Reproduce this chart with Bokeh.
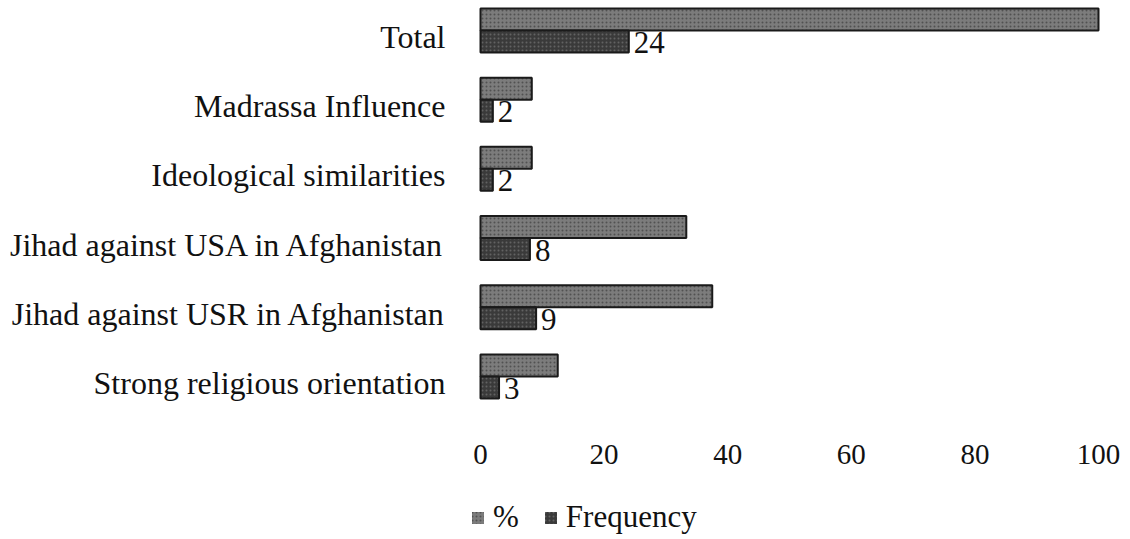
from bokeh.plotting import figure
from bokeh.layouts import column
from bokeh.models import Range1d, FixedTicker, ColumnDataSource, Legend, LegendItem
from bokeh.core.properties import value
from bokeh.embed import file_html
from bokeh.resources import INLINE

# Data (bottom to top)
categories = ["Strong religious orientation",
              "Jihad against USR in Afghanistan",
              "Jihad against USA in Afghanistan",
              "Ideological similarities",
              "Madrassa Influence",
              "Total"]
frequency = [3, 9, 8, 2, 2, 24]
percent = [12.5, 37.5, 33.3, 8.3, 8.3, 100]
x_ticks = [0, 20, 40, 60, 80, 100]

FONT = "Liberation Serif"
PCT_FILL = "#7c7c7c"
PCT_HATCH = "#333333"
FRQ_FILL = "#3a3a3a"
FRQ_HATCH = "#8a8a8a"
EDGE = "#1a1a1a"
idx = list(range(len(categories)))

src = ColumnDataSource(dict(
    idx=idx,
    pct_y=[i + 0.253 for i in idx],
    frq_y=[i - 0.065 for i in idx],
    pct=percent,
    frq=frequency,
    frq_lbl=[str(v) for v in frequency],
))

pct_fill = dict(fill_color=PCT_FILL, hatch_pattern="dot", hatch_color=PCT_HATCH,
                hatch_scale=4, hatch_weight=1, hatch_alpha=0.6)
frq_fill = dict(fill_color=FRQ_FILL, hatch_pattern="dot", hatch_color=FRQ_HATCH,
                hatch_scale=4, hatch_weight=1, hatch_alpha=0.5)

p = figure(width=1130, height=490, output_backend="svg", toolbar_location=None,
           x_range=Range1d(-1.618, 101.94), y_range=Range1d(-0.658, 5.527),
           min_border_left=470, min_border_right=20, min_border_top=0,
           min_border_bottom=62)

p.hbar(y="pct_y", height=0.318, left=0, right="pct", source=src,
       line_color=EDGE, line_width=2, **pct_fill)
p.hbar(y="frq_y", height=0.318, left=0, right="frq", source=src,
       line_color=EDGE, line_width=2, **frq_fill)

p.text(x="frq", y="frq_y", text="frq_lbl", source=src, x_offset=5, y_offset=1,
       text_align="left", text_baseline="middle",
       text_font=value(FONT), text_font_size="31px", text_color="#111111")

# axes
p.yaxis.ticker = FixedTicker(ticks=idx)
p.yaxis.major_label_overrides = {i: c for i, c in zip(idx, categories)}
p.xaxis.ticker = FixedTicker(ticks=x_ticks)
for ax in (p.xaxis, p.yaxis):
    ax.axis_line_color = None
    ax.major_tick_line_color = None
    ax.minor_tick_line_color = None
    ax.major_tick_out = 0
    ax.major_tick_in = 0
    ax.major_label_text_font = FONT
    ax.major_label_text_color = "#111111"
p.yaxis.major_label_text_font_size = "32px"
p.yaxis.major_label_standoff = 25
p.xaxis.major_label_text_font_size = "29px"
p.xaxis.major_label_standoff = 16

p.xgrid.grid_line_color = None
p.ygrid.grid_line_color = None
p.outline_line_color = None

# legend strip (its frame is aligned with the chart's frame)
p2 = figure(width=1130, height=49, output_backend="svg", toolbar_location=None,
            x_range=Range1d(0, 1), y_range=Range1d(0, 1),
            min_border=0, min_border_left=0, min_border_right=0,
            min_border_top=0, min_border_bottom=0)
p2.axis.visible = False
p2.xgrid.grid_line_color = None
p2.ygrid.grid_line_color = None
p2.outline_line_color = None
l_pct = p2.hbar(y="pct_y", height=0.318, left=0, right="pct", source=src,
                visible=False, line_color=None, **pct_fill)
l_frq = p2.hbar(y="frq_y", height=0.318, left=0, right="frq", source=src,
                visible=False, line_color=None, **frq_fill)
legend = Legend(items=[LegendItem(label="%", renderers=[l_pct]),
                       LegendItem(label="Frequency", renderers=[l_frq])],
                location=(0, 4), orientation="horizontal",
                label_text_font=FONT, label_text_font_size="31px",
                label_text_color="#111111",
                glyph_height=15, glyph_width=15, label_height=30,
                label_standoff=8, spacing=24, padding=0, margin=0,
                border_line_color=None, background_fill_alpha=0,
                inactive_fill_alpha=0)
p2.add_layout(legend, "center")

layout = column(p, p2, spacing=0)
open("out.html", "w").write(file_html(layout, INLINE))
